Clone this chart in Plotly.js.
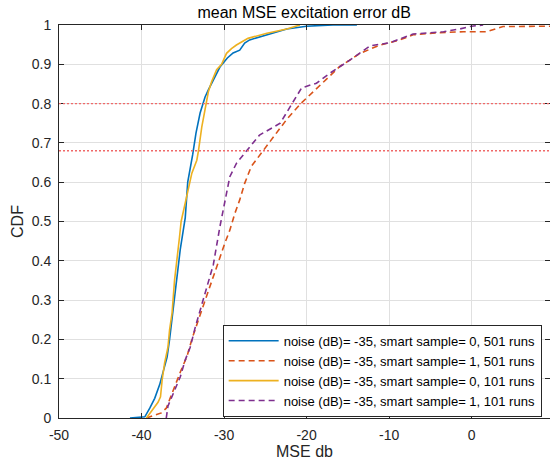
<!DOCTYPE html>
<html>
<head>
<meta charset="utf-8">
<script src="https://cdn.plot.ly/plotly-3.0.1.min.js"></script>
<style>html,body{margin:0;padding:0;background:#fff;}#chart{width:550px;height:466px;}</style>
</head>
<body>
<div id="chart"></div>
<script>
// Series: blue (smart=0, 501 runs)
const blueX = [-41.4,-39.6,-39.0,-38.4,-37.8,-37.4,-36.9,-36.6,-36.2,-35.8,-35.3,-34.7,-34.4,-33.8,-33.4,-32.9,-32.3,-31.9,-31.3,-30.5,-29.6,-28.9,-28.1,-27.5,-26.9,-24.8,-22.4,-20.0,-16.8,-13.9];
const blueY = [0,0.003,0.025,0.05,0.085,0.115,0.155,0.2,0.27,0.33,0.43,0.51,0.6,0.67,0.725,0.776,0.817,0.835,0.86,0.893,0.916,0.929,0.936,0.954,0.962,0.975,0.99,0.997,1.0,1.0];
// orange dashed (smart=1, 501 runs)
const orangeX = [-39.4,-38.2,-37.6,-37.0,-36.4,-35.8,-35.2,-34.5,-33.9,-33.1,-32.3,-31.5,-30.5,-29.9,-29.3,-28.7,-28.1,-27.5,-26.7,-25.3,-22.4,-20.7,-18.8,-16.0,-13.5,-11.1,-8.7,-7.1,-4.2,-1.0,1.8,3.8,9.5];
const orangeY = [0,0.008,0.013,0.025,0.058,0.092,0.122,0.156,0.2,0.25,0.3,0.35,0.41,0.445,0.478,0.52,0.555,0.597,0.64,0.68,0.76,0.8,0.839,0.894,0.928,0.949,0.962,0.975,0.98,0.983,0.983,0.996,0.997];
// yellow (smart=0, 101 runs)
const yellowX = [-39.4,-38.8,-38.0,-37.7,-37.5,-37.2,-36.8,-36.6,-36.3,-36.0,-35.7,-35.4,-35.2,-34.8,-34.35,-33.9,-33.3,-33.1,-32.7,-32.3,-31.9,-31.5,-30.9,-30.3,-29.7,-29.1,-28.5,-27.1,-24.8,-22.4,-20.8];
const yellowY = [0,0.016,0.04,0.054,0.097,0.14,0.18,0.224,0.267,0.35,0.40,0.46,0.5,0.54,0.58,0.623,0.656,0.68,0.74,0.79,0.83,0.856,0.886,0.9,0.928,0.94,0.949,0.966,0.979,0.99,1.0];
// purple dashed (smart=1, 101 runs)
const purpleX = [-37.0,-36.8,-36.0,-35.3,-34.7,-34.1,-33.5,-32.9,-32.1,-31.3,-30.5,-29.9,-29.3,-28.5,-27.3,-25.7,-23.2,-21.8,-20.6,-18.8,-17.2,-14.8,-12.3,-9.9,-7.1,-3.4,-1.4,0.0,1.4];
const purpleY = [0,0.03,0.07,0.105,0.148,0.18,0.23,0.275,0.334,0.39,0.487,0.555,0.614,0.648,0.68,0.72,0.75,0.80,0.84,0.852,0.877,0.91,0.947,0.955,0.977,0.983,0.99,0.997,1.0];

const seriesNames = [
  'noise (dB)= -35, smart sample= 0, 501 runs',
  'noise (dB)= -35, smart sample= 1, 501 runs',
  'noise (dB)= -35, smart sample= 0, 101 runs',
  'noise (dB)= -35, smart sample= 1, 101 runs'
];
const refLevels = [0.8, 0.68];
const xTicks = [-50,-40,-30,-20,-10,0];
const yTicks = [0,0.1,0.2,0.3,0.4,0.5,0.6,0.7,0.8,0.9,1];

const dashStyle = '6px,4px';
const traces = [
  {x: blueX, y: blueY, name: seriesNames[0], mode: 'lines', line: {color: '#0072BD', width: 1.6}},
  {x: orangeX, y: orangeY, name: seriesNames[1], mode: 'lines', line: {color: '#D95319', width: 1.6, dash: dashStyle}},
  {x: yellowX, y: yellowY, name: seriesNames[2], mode: 'lines', line: {color: '#EDB120', width: 1.6}},
  {x: purpleX, y: purpleY, name: seriesNames[3], mode: 'lines', line: {color: '#7E2F8E', width: 1.6, dash: dashStyle}}
];

const shapes = refLevels.map(v => ({
  type: 'line', xref: 'paper', x0: 0, x1: 1, yref: 'y', y0: v, y1: v,
  line: {color: 'rgb(240,105,105)', width: 1.3, dash: '2px,2px'}, layer: 'above'
}));

const axisCol = '#262626';
const gridCol = '#e0e0e0';
const layout = {
  width: 550, height: 466,
  margin: {l: 59, r: 0, t: 25, b: 48},
  paper_bgcolor: '#fff', plot_bgcolor: '#fff',
  font: {family: 'Liberation Sans, Arial, sans-serif', size: 14, color: axisCol},
  title: {text: 'mean MSE excitation error dB', font: {size: 16, color: '#000'}, x: 0.553, xanchor: 'center', yref: 'container', y: 0.974, yanchor: 'middle'},
  showlegend: true,
  legend: {x: 0.983, xanchor: 'right', y: 0.237, yanchor: 'top', bgcolor: '#fff', bordercolor: axisCol, borderwidth: 1,
    font: {size: 13, color: '#000'}, tracegroupgap: 0, itemwidth: 50},
  xaxis: {range: [-50, 9.5], tickvals: xTicks, ticktext: xTicks.map(String), showgrid: true, gridcolor: gridCol, zeroline: false,
    showline: true, linecolor: axisCol, linewidth: 1, mirror: 'ticks', ticks: 'inside', ticklen: 5, tickcolor: axisCol,
    ticklabelstandoff: 4, tickfont: {size: 14}, title: {text: 'MSE db', font: {size: 16}, standoff: 1}},
  yaxis: {range: [0, 1], tickvals: yTicks, ticktext: yTicks.map(String), showgrid: true, gridcolor: gridCol, zeroline: false,
    showline: true, linecolor: axisCol, linewidth: 1, mirror: 'ticks', ticks: 'inside', ticklen: 5, tickcolor: axisCol,
    ticklabelstandoff: 4, tickfont: {size: 14}, title: {text: 'CDF', font: {size: 16}, standoff: 4}},
  shapes: shapes
};
Plotly.newPlot('chart', traces, layout, {displayModeBar: false, staticPlot: true});
</script>
</body>
</html>
